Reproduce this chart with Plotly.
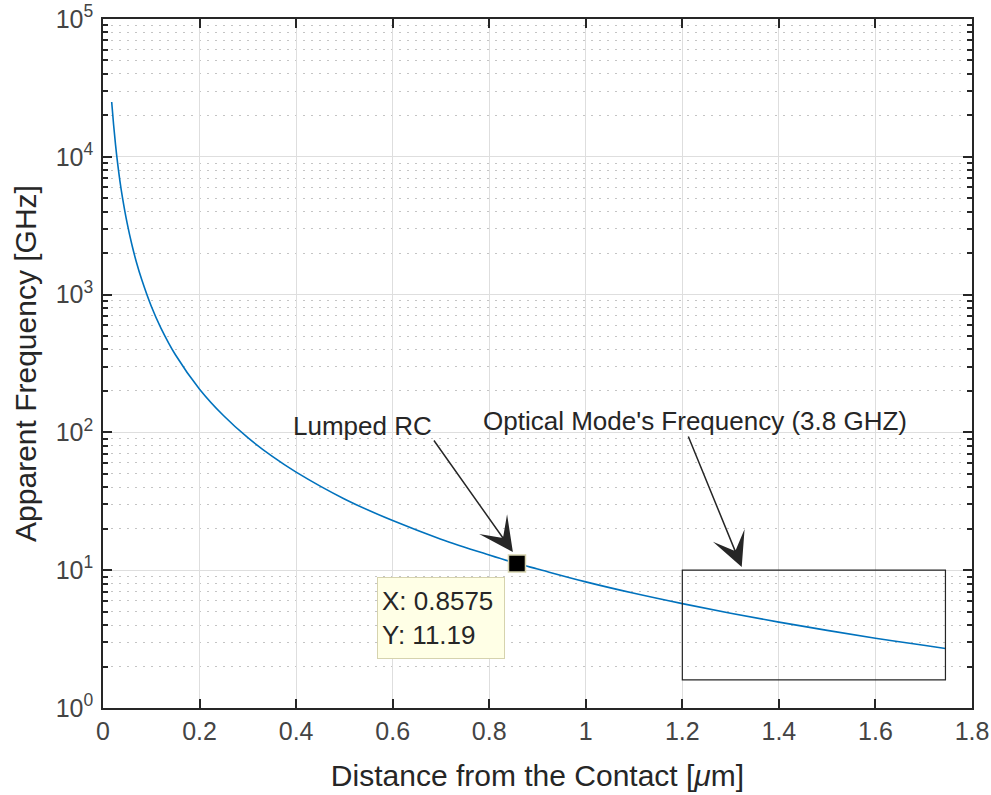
import plotly.graph_objects as go
import math

# Curve values
dist_um = [0.018, 0.022, 0.026, 0.03, 0.035, 0.04, 0.05, 0.06, 0.07, 0.08, 0.1, 0.12, 0.15,
           0.2, 0.25, 0.3, 0.35, 0.4, 0.5, 0.6, 0.7, 0.8, 0.8575, 0.9, 1.0, 1.1, 1.2, 1.3,
           1.4, 1.5, 1.6, 1.7, 1.745]
freq_ghz = [25000, 17000, 12200, 9150, 6700, 5150, 3300, 2290, 1680, 1290, 823, 572, 366,
            206, 132, 91.5, 67.2, 51.5, 32.9, 22.9, 16.8, 12.9, 11.19, 10.2, 8.23, 6.8, 5.72, 4.87,
            4.20, 3.66, 3.21, 2.85, 2.70]

# Data tip
tip_x = 0.8575
tip_y = 11.19

# Highlighted region (optical mode)
box_x = [1.2, 1.745]
box_y = [1.6, 10]

x_ticks = [0, 0.2, 0.4, 0.6, 0.8, 1.0, 1.2, 1.4, 1.6, 1.8]
x_tick_text = ["0", "0.2", "0.4", "0.6", "0.8", "1", "1.2", "1.4", "1.6", "1.8"]
y_ticks = [1, 10, 100, 1000, 10000, 100000]
y_tick_text = ["10<sup>0</sup>", "10<sup>1</sup>", "10<sup>2</sup>", "10<sup>3</sup>",
               "10<sup>4</sup>", "10<sup>5</sup>"]

FONT = "Liberation Sans, Arial, Helvetica, sans-serif"
AX = "#262626"

fig = go.Figure()
fig.add_trace(go.Scatter(x=dist_um, y=freq_ghz, mode="lines", line_shape="spline",
                         line=dict(color="#0072BD", width=1.6), showlegend=False,
                         hoverinfo="skip"))
fig.add_trace(go.Scatter(x=[tip_x], y=[tip_y], mode="markers",
                         marker=dict(symbol="square", size=17, color="black",
                                     line=dict(color="#d6d3ae", width=1.5)),
                         showlegend=False, hoverinfo="skip"))

fig.add_shape(type="rect", xref="x", yref="y", x0=box_x[0], x1=box_x[1], y0=box_y[0], y1=box_y[1],
              line=dict(color=AX, width=1.2), fillcolor="rgba(0,0,0,0)")

# data tip box
fig.add_annotation(x=tip_x, y=math.log10(tip_y), xref="x", yref="y",
                   text="X: %s<br>Y: %s" % ("0.8575", "11.19"), showarrow=False,
                   xanchor="right", yanchor="top", xshift=-12, yshift=-14,
                   align="left", width=118, height=72, borderpad=4, borderwidth=1,
                   bgcolor="#ffffe6", bordercolor="#d6d3ae",
                   font=dict(family=FONT, size=26, color="#262626"))

# text labels
fig.add_annotation(x=0.538, y=2.046, xref="x", yref="y", text="Lumped RC", showarrow=False,
                   font=dict(family=FONT, size=26, color="#262626"))
fig.add_annotation(x=1.2257, y=2.083, xref="x", yref="y",
                   text="Optical Mode's Frequency (3.8 GHZ)", showarrow=False,
                   font=dict(family=FONT, size=26, color="#262626"))
# arrows
fig.add_annotation(x=0.849, y=1.132, xref="x", yref="y", text="", showarrow=True,
                   ax=-80, ay=-113, arrowhead=3, arrowsize=3.8, arrowwidth=1.5, arrowcolor=AX)
fig.add_annotation(x=1.323, y=1.023, xref="x", yref="y", text="", showarrow=True,
                   ax=-54, ay=-132, arrowhead=3, arrowsize=3.8, arrowwidth=1.5, arrowcolor=AX)

fig.update_layout(
    width=991, height=795,
    margin=dict(l=103, r=19, t=19, b=87, autoexpand=False),
    paper_bgcolor="white", plot_bgcolor="white",
    font=dict(family=FONT, color=AX, size=25),
)
fig.update_xaxes(range=[0, 1.8], tickvals=x_ticks, ticktext=x_tick_text,
                 ticks="inside", ticklen=9, tickwidth=1.5, tickcolor=AX,
                 showline=True, linecolor=AX, linewidth=1.5, mirror="allticks",
                 showgrid=True, gridcolor="#dedede", gridwidth=1, zeroline=False,
                 tickfont=dict(size=25, color="#444444"),
                 title=dict(text="Distance from the Contact [<i>μ</i>m]",
                            font=dict(size=30, color=AX), standoff=21))
fig.update_yaxes(type="log", range=[0, 5], tickvals=y_ticks, ticktext=y_tick_text,
                 ticks="inside", ticklen=9, tickwidth=1.5, tickcolor=AX,
                 showline=True, linecolor=AX, linewidth=1.5, mirror="allticks",
                 showgrid=True, gridcolor="#dedede", gridwidth=1, zeroline=False,
                 tickfont=dict(size=25, color="#444444"), ticklabelstandoff=3,
                 minor=dict(dtick="D1", ticks="inside", ticklen=5, tickwidth=1.5, tickcolor=AX,
                            showgrid=True, gridcolor="#c4c4c4", gridwidth=1, griddash="2px,6px"),
                 title=dict(text="Apparent Frequency [GHz]", font=dict(size=30, color=AX),
                            standoff=10))

fig.write_html("out.html")
